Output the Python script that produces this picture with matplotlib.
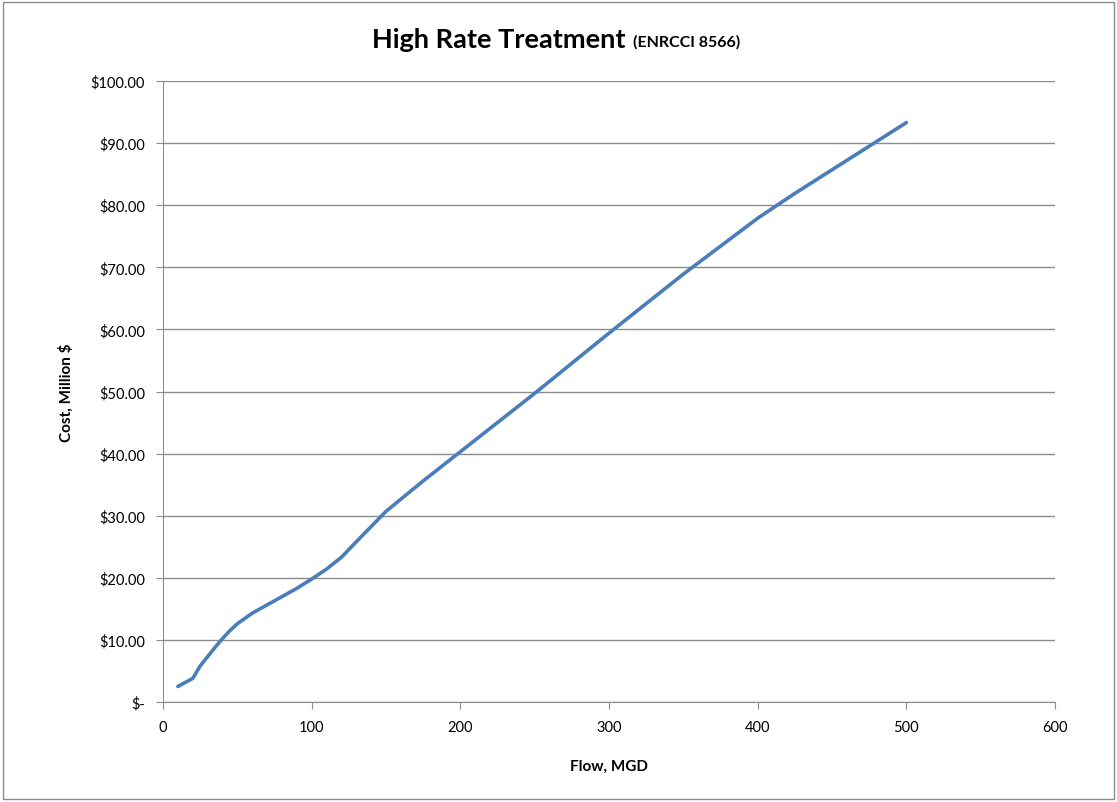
import matplotlib.pyplot as plt
from matplotlib.ticker import FuncFormatter
from matplotlib.patches import Rectangle

# flow (MGD) vs. construction cost (million $)
flow = [10, 20, 25, 30, 35, 40, 45, 50, 60, 75, 90, 100, 110, 120, 130, 150,
        175, 200, 250, 300, 350, 400, 425, 450, 475, 500]
cost = [2.5, 3.8, 5.8, 7.3, 8.8, 10.2, 11.5, 12.6, 14.3, 16.3, 18.3, 19.8,
        21.4, 23.3, 25.8, 30.7, 35.6, 40.3, 49.7, 59.4, 68.9, 77.9, 81.9,
        85.7, 89.5, 93.3]

plt.rcParams['font.family'] = ['Lato', 'DejaVu Sans']

fig = plt.figure(figsize=(11.17, 8.03), dpi=100)
ax = fig.add_axes([163 / 1117, 1 - 703 / 803, 892 / 1117, 621 / 803])

ax.plot(flow, cost, color='#4A7EBB', lw=2.6, solid_capstyle='round',
        solid_joinstyle='round')

ax.set_xlim(0, 600)
ax.set_ylim(0, 100)
ax.set_xticks(range(0, 601, 100))
ax.set_yticks(range(0, 101, 10))


def money(v, pos):
    return '$-' if v == 0 else f'${v:.2f}'


ax.yaxis.set_major_formatter(FuncFormatter(money))
ax.grid(axis='y', color='#8c8c8c', lw=1)
ax.set_axisbelow(True)
for side in ('top', 'right'):
    ax.spines[side].set_visible(False)
for side in ('left', 'bottom'):
    ax.spines[side].set_color('#8c8c8c')
ax.tick_params(direction='out', length=5, color='#8c8c8c', labelsize=10.5,
               pad=8)

ax.set_xlabel('Flow, MGD', fontsize=11, fontweight='bold', labelpad=18)
ax.set_ylabel('Cost, Million $', fontsize=11, fontweight='bold', labelpad=12)

fig.text(625 / 1117, 1 - 40 / 803, 'High Rate Treatment', fontsize=19.5,
         fontweight='bold', ha='right', va='center')
fig.text(633 / 1117, 1 - 42 / 803, '(ENRCCI 8566)', fontsize=11.5,
         fontweight='bold', ha='left', va='center')

# thin outer frame around the chart
fig.patches.append(Rectangle((0.003, 0.004), 0.994, 0.992,
                             transform=fig.transFigure, fill=False,
                             ec='#8c8c8c', lw=1))

fig.savefig('out.png', dpi=100)
